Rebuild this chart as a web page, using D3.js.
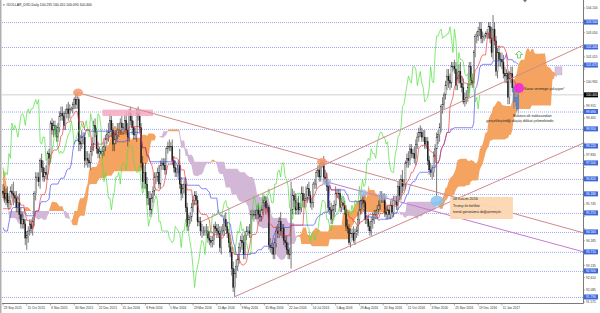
<!DOCTYPE html>
<html lang="tr">
<head>
<meta charset="utf-8">
<title>#DOLLAR_DXD, Daily</title>
<script src="https://cdn.jsdelivr.net/npm/d3@7"></script>
<style>
  body { margin: 0; background: #fff; }
  svg { display: block; font-family: "Liberation Sans", Arial, sans-serif; }
</style>
</head>
<body>
<div id="chart"></div>
<script>
(function (d3) {
  'use strict';

  // daily closes, 23 Sep 2015 .. 26 Jan 2017 (one row = 16 bars = one date label)
  var closes = [
    96.2, 96.0, 96.2, 95.8, 95.9, 96.3, 96.2, 96.1, 96.0, 95.6, 95.8, 95.3, 94.9, 95.1, 94.9, 94.3,
    94.4, 94.6, 94.9, 94.7, 95.0, 96.2, 96.9, 96.9, 96.7, 97.6, 97.3, 96.9, 97.1, 97.0, 97.9, 97.7,
    99.2, 98.9, 99.1, 98.9, 98.6, 99.0, 99.5, 99.6, 99.5, 99.1, 99.6, 99.8, 99.6, 99.8, 99.8, 100.0,
    100.2, 100.0, 100.2, 98.4, 98.3, 98.6, 98.6, 97.6, 97.7, 97.6, 97.5, 98.0, 98.3, 99.1, 98.8, 98.1,
    97.9, 98.0, 97.9, 98.0, 98.2, 98.5, 98.7, 98.8, 99.3, 98.9, 98.3, 98.5, 98.7, 98.9, 98.9, 99.2,
    99.0, 99.0, 99.3, 98.9, 98.6, 99.6, 99.3, 99.0, 98.7, 98.7, 99.6, 99.5, 99.0, 97.5, 96.7, 97.1,
    96.6, 96.0, 96.0, 95.5, 96.0, 96.3, 96.9, 96.9, 97.1, 96.6, 97.4, 97.5, 97.4, 97.2, 98.1, 98.2,
    98.2, 98.2, 97.6, 97.3, 97.1, 97.1, 97.4, 96.6, 96.2, 96.4, 96.6, 95.6, 94.8, 95.1, 95.2, 95.6,
    95.9, 96.1, 95.9, 95.0, 95.0, 94.6, 94.6, 94.6, 94.6, 94.6, 94.3, 94.2, 94.1, 94.2, 94.8, 94.7,
    94.6, 94.5, 93.9, 94.6, 94.6, 95.1, 94.8, 94.5, 94.1, 93.7, 93.0, 92.2, 92.8, 93.1, 93.4, 93.9,
    94.2, 94.1, 93.6, 94.4, 94.6, 94.6, 94.5, 95.3, 95.3, 95.3, 95.3, 95.5, 95.3, 95.2, 95.5, 95.8,
    95.9, 95.6, 95.6, 94.0, 93.9, 93.9, 93.6, 94.1, 94.6, 94.5, 95.0, 94.6, 94.7, 94.2, 94.1, 93.8,
    93.6, 93.6, 95.5, 96.1, 95.9, 95.5, 95.8, 95.5, 95.6, 96.2, 95.9, 95.9, 96.0, 96.4, 96.1, 95.8,
    95.8, 96.6, 96.6, 97.1, 97.2, 96.9, 97.5, 97.5, 96.9, 96.8, 96.5, 95.6, 95.5, 95.1, 95.5, 95.7,
    96.2, 96.2, 96.2, 95.6, 95.8, 95.7, 95.5, 94.8, 94.7, 94.1, 94.5, 94.5, 94.2, 94.5, 94.6, 95.1,
    95.5, 95.9, 95.9, 95.8, 95.1, 95.1, 94.8, 94.6, 95.0, 95.1, 95.3, 95.3, 95.5, 95.7, 96.1, 96.0,
    96.0, 95.4, 95.3, 95.5, 95.3, 95.7, 95.4, 95.9, 95.9, 95.7, 96.5, 96.1, 96.8, 96.5, 96.6, 97.5,
    97.7, 97.6, 98.1, 97.9, 97.9, 97.7, 98.3, 98.6, 98.8, 98.8, 98.6, 98.6, 98.3, 98.4, 97.6, 97.2,
    97.1, 97.1, 97.8, 98.1, 98.6, 98.7, 99.0, 99.9, 100.0, 100.4, 100.8, 101.2, 101.0, 100.9, 101.6, 101.6,
    101.5, 100.8, 101.1, 101.4, 100.9, 100.7, 100.1, 100.2, 100.3, 100.7, 101.6, 101.0, 100.9, 102.2, 102.9, 102.9,
    103.1, 103.2, 102.8, 102.9, 102.9, 103.0, 103.0, 103.3, 102.8, 102.2, 103.2, 102.7, 101.4, 102.2, 101.9, 101.9,
    101.8, 101.3, 101.2, 101.3, 100.3, 101.1, 101.3, 100.7, 100.1, 100.3, 99.8, 100.4
  ];
  var firstOpen = 96.3;

  // wick lengths above / below the candle body
  var wickUp = [
    .3,.3,.2,.3,.2,.2,.3,.5,.2,.3,.3,.4,.3,.3,.2,.2,
    .2,.2,.2,.2,.2,.1,.2,.2,.2,.1,.3,.3,.2,.3,.1,.2,
    .1,.2,.2,.2,.2,.2,.2,.3,.3,.2,.2,.2,.3,.2,.1,.1,
    .1,.3,.3,.1,.3,.3,.2,.2,.3,.3,.3,.2,.3,.2,.3,.2,
    .3,.2,.1,.2,.2,.2,.2,.4,.3,.2,.3,.3,.2,.3,.3,.2,
    .3,.2,.2,.4,.3,.2,.3,.2,.3,.3,.2,.3,.2,.2,.3,.3,
    .4,.3,.3,.3,.2,.2,.2,.2,.2,.3,.2,.2,.2,.3,.1,.2,
    .3,.2,.3,.2,.3,.2,.2,.7,.3,.2,.2,.3,.2,.2,.2,.2,
    .2,.2,.2,.2,.2,.2,.3,.2,.2,.3,.2,.3,.2,.2,.1,.2,
    .2,.3,.3,.2,.3,.2,.3,.2,.2,.2,.2,.3,.2,.3,.2,.2,
    .2,.3,.3,.2,.2,.2,.3,.2,.2,.2,.2,.2,.3,.2,.2,.2,
    .2,.2,.2,.1,.3,.2,.2,.2,.2,.3,.2,.4,.2,.2,.2,.3,
    .3,.3,1.2,.3,.2,.3,.2,.3,.2,.3,.3,.3,.5,.2,.3,.2,
    .2,.1,.2,.1,.2,.3,.1,.1,.3,.3,.3,.2,.3,.3,.2,.2,
    .3,.2,.2,.2,.2,.3,.2,.2,.3,.2,.2,.2,.3,.2,.2,.3,
    .4,.2,.2,.3,.1,.2,.2,.2,.2,.3,.2,.2,.2,.2,.2,.2,
    .2,.2,.2,.2,.2,.2,.3,.2,.2,.2,.2,.3,.2,.4,.2,.1,
    .2,.3,.2,.2,.2,.3,.2,.2,.2,.3,.2,.3,.3,.2,.2,.2,
    .3,.3,.2,.2,.2,.2,.2,.1,.3,.1,.2,.3,.3,.3,.2,.2,
    .3,.3,.3,.3,.4,.3,.4,.3,.3,.2,.2,.2,.3,.1,.1,.2,
    .2,.3,.3,.2,.1,.1,.2,.2,.2,.5,.6,.3,.2,.2,.3,.3,
    .3,.3,.3,.2,.1,.3,.3,.3,.3,.3,.3,.1
  ];
  var wickDn = [
    .2,.2,.3,.2,.3,.2,.2,.4,.2,.2,.2,.2,.2,.2,.2,.3,
    .5,.3,.2,.2,.3,.2,.3,.2,.2,.3,.2,.2,.2,.2,.2,.3,
    .2,.2,.3,.2,.2,.2,.2,.2,.2,.2,.2,.2,.3,.2,.1,.2,
    .2,.2,.2,.4,.3,.2,.3,.3,.2,.3,.2,.3,.2,.3,.2,.2,
    .2,.2,.1,.2,.2,.2,.2,.3,.2,.3,.3,.3,.2,.2,.3,.2,
    .3,.3,.2,.2,.4,.2,.2,.3,.2,.2,.3,.2,.2,.2,.3,.3,
    .2,.3,.3,.3,.2,.2,.2,.3,.2,.2,.2,.2,.2,.2,.2,.2,
    .2,.2,.2,.2,.2,.2,.3,.2,.3,.2,.2,.2,.2,.2,.2,.2,
    .2,.2,.2,.2,.2,.2,.3,.2,.2,.2,.2,.2,.2,.2,.2,.2,
    .3,.2,.2,.3,.2,.2,.2,.2,.2,.2,.3,.2,.4,.2,.2,.2,
    .2,.3,.2,.2,.2,.2,.2,.2,.2,.3,.2,.2,.2,.2,.2,.2,
    .2,.3,.2,.2,.2,.3,.2,.2,.2,.2,.2,.2,.3,.2,.2,.2,
    .2,.2,.6,.2,.3,.2,.2,.2,.2,.2,.3,.3,.3,.2,.2,.2,
    .3,.2,.2,.2,.2,.2,.2,.2,.2,.2,.2,.2,.2,.2,.2,.3,
    .3,.2,.2,.2,.2,.2,.2,.2,.2,.1,.2,.2,.1,.2,.2,.2,
    .2,.2,.2,.2,.2,.2,.2,.2,.2,.3,.2,.2,.2,.2,.2,.2,
    .2,.2,.2,.2,.2,.2,.2,.2,.2,.2,.2,.2,.2,.3,.2,.2,
    .2,.3,.2,.2,.2,.2,.3,.2,.2,.2,.2,.2,.2,.2,.2,.2,
    .2,.3,.2,.3,2.0,.3,.3,.2,.3,.2,.2,.2,.3,.3,.2,.2,
    .2,.2,.2,.2,.2,.2,.1,.2,.2,.2,.2,.2,.2,.2,.2,.3,
    .2,.2,.2,.2,.2,.1,.2,.2,.2,.2,.3,.2,.2,.3,.3,.3,
    .3,.2,.3,.3,.3,.3,.2,.2,.3,.2,.1,.2
  ];

  // bars before the left edge (Jun - Sep 2015), only used to start the Ichimoku lines
  var warmHighs = [
    96.9, 96.4, 95.5, 95.3, 95.4, 95.3, 95.1, 95.0, 95.1, 94.6, 94.4, 95.0, 96.0, 95.9, 95.6, 95.8, 95.6, 95.9,
    96.4, 96.4, 96.3, 96.5, 96.9, 96.9, 96.4, 96.1, 96.8, 97.0, 97.5, 97.9, 98.0, 98.1, 98.0, 97.7, 97.6, 97.4,
    97.2, 96.9, 97.4, 97.7, 97.6, 97.7, 98.1, 98.3, 98.2, 98.1, 97.7, 97.4, 96.9, 96.8, 96.8, 97.0, 97.1, 96.9,
    96.4, 95.5, 94.8, 94.2, 95.3, 95.8, 96.0, 96.1, 96.0, 96.0, 96.4, 96.5, 96.3, 96.3, 96.1, 95.9, 95.6, 95.4,
    95.8, 95.8, 95.4, 95.2, 95.7, 96.3
  ];
  var warmLows = [
    96.0, 95.2, 94.7, 94.3, 94.5, 94.7, 94.3, 94.5, 94.4, 93.5, 93.8, 94.1, 94.9, 95.1, 95.2, 95.3, 94.9, 95.1,
    95.7, 95.9, 95.8, 95.7, 96.1, 96.1, 95.8, 95.7, 96.0, 96.5, 96.8, 97.2, 97.6, 97.6, 97.2, 97.2, 96.9, 96.9,
    96.5, 96.5, 96.6, 97.2, 97.1, 97.2, 97.5, 97.9, 97.6, 97.2, 97.2, 96.8, 96.1, 96.3, 96.4, 96.5, 96.6, 96.3,
    95.4, 94.7, 92.6, 93.3, 93.9, 95.1, 95.5, 95.6, 95.1, 95.3, 95.8, 95.9, 95.9, 95.7, 95.6, 95.3, 95.0, 95.1,
    95.2, 95.2, 94.6, 94.5, 95.0, 95.5
  ];

  var dateLabels = [
    '23 Sep 2015', '15 Oct 2015', '6 Nov 2015', '30 Nov 2015', '22 Dec 2015', '15 Jan 2016',
    '8 Feb 2016', '1 Mar 2016', '23 Mar 2016', '15 Apr 2016', '9 May 2016', '31 May 2016',
    '22 Jun 2016', '14 Jul 2016', '5 Aug 2016', '29 Aug 2016', '20 Sep 2016', '12 Oct 2016',
    '3 Nov 2016', '25 Nov 2016', '19 Dec 2016', '11 Jan 2017'
  ];
  var labelEvery = 16;

  var priceTicks = [
    91.575, 92.085, 92.610, 93.135, 93.660, 94.185, 94.710, 95.220, 95.745, 96.270, 96.795, 97.305,
    97.830, 98.355, 98.880, 99.405, 99.915, 100.440, 100.965, 101.490, 102.015, 102.515, 103.050,
    103.575, 104.100
  ];
  // horizontal levels drawn by the author
  var levels = [103.500, 102.440, 101.670, 99.690, 98.950, 98.220, 97.500, 96.820, 96.180, 95.370,
    94.560, 93.710, 92.900, 91.790];
  var lastPrice = 100.400;
  var header = '#DOLLAR_DXD,Daily  100.235 100.410 100.090 100.400';

  // trend lines: [bar0, price0, bar1, price1]
  var trendLines = [
    [50, 100.5, 391, 94.52],
    [133, 94.98, 391, 102.52],
    [156, 91.8, 391, 98.35],
    [218, 96.69, 391, 93.71]
  ];
  var trendColors = ['#d08a8a', '#d08a8a', '#d08a8a', '#c47ad4'];

  // marked points [bar, price]
  var highMarks = [[50.5, 100.5], [214.8, 97.54]];
  var touchMarks = [[218, 96.69], [242.4, 96.22], [255.9, 96.05]];
  var trumpMark = [292.3, 95.88];
  var nowMark = [347.5, 100.69];
  var arrowMark = [347.5, 102.1];
  var pinkZone = [67, 99.77, 101, 99.5];
  var noteBox = [301, 96.05, 343.4, 95.11];
  var smallBox = [371.7, 101.59, 376.4, 101.25];

  var notes = [
    { b: 351, p: 100.62, t: 'Karar vermeye çalışıyor!' },
    { b: 343.4, p: 99.47, t: 'Bulutun alt noktasından' },
    { b: 325.5, p: 99.24, t: 'gerçekleştirdiği düşüş dikkat çekmektedir.' },
    { b: 303, p: 95.9, t: '08 Kasım 2016' },
    { b: 303, p: 95.63, t: 'Trump ile birlikte' },
    { b: 303, p: 95.36, t: 'trend görünümü değiştirmiştir.' }
  ];

  var width = 600, height = 313;
  var plotRight = 583, plotBottom = 303;

  var N = closes.length, W = warmHighs.length;
  var bars = closes.map(function (c, i) {
    var o = i ? closes[i - 1] : firstOpen;
    return { i: i, o: o, c: c, h: Math.max(o, c) + wickUp[i], l: Math.min(o, c) - wickDn[i] };
  });

  var allH = warmHighs.concat(bars.map(function (d) { return d.h; }));
  var allL = warmLows.concat(bars.map(function (d) { return d.l; }));
  function mid(g, n) {
    var a = Math.max(0, g - n + 1);
    return (d3.max(allH.slice(a, g + 1)) + d3.min(allL.slice(a, g + 1))) / 2;
  }
  var tenkan = bars.map(function (d) { return { i: d.i, v: mid(d.i + W, 9) }; });
  var kijun = bars.map(function (d) { return { i: d.i, v: mid(d.i + W, 26) }; });
  var chikou = bars.slice(26).map(function (d) { return { i: d.i - 26, v: d.c }; });
  var cloud = d3.range(N + 26).map(function (j) {
    var g = j + W - 26;
    return { i: j, a: (mid(g, 9) + mid(g, 26)) / 2, b: mid(g, 52) };
  });

  var x = d3.scaleLinear().domain([0, N - 1]).range([3, 3 + (N - 1) * 1.485]);
  var y = d3.scaleLinear().domain([91.575, 104.1]).range([302, 8]);

  var svg = d3.select('#chart').append('svg')
    .attr('width', width).attr('height', height);

  svg.append('rect').attr('width', width).attr('height', height).attr('fill', '#fff');
  svg.append('defs').append('clipPath').attr('id', 'plot')
    .append('rect').attr('x', 2).attr('y', 0).attr('width', plotRight - 2).attr('height', plotBottom);

  var plot = svg.append('g').attr('clip-path', 'url(#plot)');

  // levels and bid line
  plot.selectAll('line.level').data(levels).join('line')
    .attr('x1', 2).attr('x2', plotRight)
    .attr('y1', function (d) { return y(d) + 0.5; }).attr('y2', function (d) { return y(d) + 0.5; })
    .attr('stroke', '#9aa8f2').attr('stroke-dasharray', '1,1').attr('stroke-width', 1);
  plot.append('line').attr('x1', 2).attr('x2', plotRight)
    .attr('y1', y(lastPrice)).attr('y2', y(lastPrice))
    .attr('stroke', '#c4c4c4').attr('stroke-width', 0.8);

  // kumo: one area per colour, each collapsing where the other colour is on top
  var bullArea = d3.area()
    .x(function (d) { return x(d.i); })
    .y0(function (d) { return y(d.b); })
    .y1(function (d) { return y(Math.max(d.a, d.b)); });
  var bearArea = d3.area()
    .x(function (d) { return x(d.i); })
    .y0(function (d) { return y(d.a); })
    .y1(function (d) { return y(Math.max(d.a, d.b)); });
  plot.append('path').datum(cloud).attr('d', bearArea).attr('fill', '#d2b8d6');
  plot.append('path').datum(cloud).attr('d', bullArea).attr('fill', '#f4a460');

  // candles
  var last = N - 4;
  plot.selectAll('line.wick').data(bars).join('line')
    .attr('x1', function (d) { return x(d.i); }).attr('x2', function (d) { return x(d.i); })
    .attr('y1', function (d) { return y(d.h); }).attr('y2', function (d) { return y(d.l); })
    .attr('stroke', function (d) { return d.i >= last ? '#4a78c0' : '#222'; })
    .attr('stroke-width', 0.6);
  plot.selectAll('rect.body').data(bars).join('rect')
    .attr('x', function (d) { return x(d.i) - 0.55; })
    .attr('width', 1.1)
    .attr('y', function (d) { return y(Math.max(d.o, d.c)); })
    .attr('height', function (d) { return Math.max(0.5, Math.abs(y(d.o) - y(d.c))); })
    .attr('fill', function (d) {
      if (d.i >= last) return '#5b8ad0';
      return d.c >= d.o ? '#fff' : '#111';
    })
    .attr('stroke', function (d) { return d.i >= last ? '#4a78c0' : '#222'; })
    .attr('stroke-width', 0.35);

  // ichimoku lines
  var line = d3.line().x(function (d) { return x(d.i); }).y(function (d) { return y(d.v); });
  plot.append('path').datum(chikou).attr('d', line)
    .attr('fill', 'none').attr('stroke', '#55e040').attr('stroke-width', 0.8).attr('opacity', 0.9);
  plot.append('path').datum(kijun).attr('d', line)
    .attr('fill', 'none').attr('stroke', '#3f3ff0').attr('stroke-width', 0.8).attr('opacity', 0.8);
  plot.append('path').datum(tenkan).attr('d', line)
    .attr('fill', 'none').attr('stroke', '#f02a2a').attr('stroke-width', 0.8).attr('opacity', 0.8);

  // objects
  plot.append('rect')
    .attr('x', x(pinkZone[0])).attr('width', x(pinkZone[2]) - x(pinkZone[0]))
    .attr('y', y(pinkZone[1])).attr('height', y(pinkZone[3]) - y(pinkZone[1]))
    .attr('fill', '#f7a9c2').attr('opacity', 0.85);

  plot.selectAll('line.trend').data(trendLines).join('line')
    .attr('x1', function (d) { return x(d[0]); }).attr('y1', function (d) { return y(d[1]); })
    .attr('x2', function (d) { return x(d[2]); }).attr('y2', function (d) { return y(d[3]); })
    .attr('stroke', function (d, i) { return trendColors[i]; })
    .attr('stroke-width', 1);

  plot.selectAll('ellipse.high').data(highMarks).join('ellipse')
    .attr('cx', function (d) { return x(d[0]); }).attr('cy', function (d) { return y(d[1]); })
    .attr('rx', 5).attr('ry', 4).attr('fill', '#f59a6c').attr('opacity', 0.85);
  plot.selectAll('ellipse.touch').data(touchMarks).join('ellipse')
    .attr('cx', function (d) { return x(d[0]); }).attr('cy', function (d) { return y(d[1]); })
    .attr('rx', 4.5).attr('ry', 3.5).attr('fill', '#9db4dc').attr('opacity', 0.7);
  plot.append('ellipse')
    .attr('cx', x(trumpMark[0])).attr('cy', y(trumpMark[1]))
    .attr('rx', 6.5).attr('ry', 5.5).attr('fill', '#86c4f0').attr('opacity', 0.85);

  plot.append('rect')
    .attr('x', x(noteBox[0])).attr('width', x(noteBox[2]) - x(noteBox[0]))
    .attr('y', y(noteBox[1])).attr('height', y(noteBox[3]) - y(noteBox[1]))
    .attr('fill', '#fdd6b0').attr('opacity', 0.95);

  plot.append('ellipse')
    .attr('cx', x(nowMark[0])).attr('cy', y(nowMark[1]))
    .attr('rx', 5).attr('ry', 5).attr('fill', '#f020e8').attr('opacity', 0.85);

  var ax = x(arrowMark[0]), ay = y(arrowMark[1]);
  plot.append('path')
    .attr('d', 'M' + ax + ',' + (ay - 4) + 'l3.5,3.5h-2v3.5h-3v-3.5h-2z')
    .attr('fill', '#fff').attr('stroke', '#3cbf3c').attr('stroke-width', 0.7);

  plot.append('rect')
    .attr('x', x(smallBox[0])).attr('width', x(smallBox[2]) - x(smallBox[0]))
    .attr('y', y(smallBox[1])).attr('height', y(smallBox[3]) - y(smallBox[1]))
    .attr('fill', '#d8c2dc').attr('stroke', '#b8a0c0').attr('stroke-width', 0.4);

  plot.selectAll('text.note').data(notes).join('text')
    .attr('x', function (d) { return x(d.b); }).attr('y', function (d) { return y(d.p); })
    .attr('font-size', 3.7).attr('fill', '#222').text(function (d) { return d.t; });

  // frame
  svg.append('rect').attr('x', 0).attr('y', 0).attr('width', 1.5).attr('height', height).attr('fill', '#b0b0b0');
  svg.append('line').attr('x1', plotRight + 0.5).attr('x2', plotRight + 0.5).attr('y1', 0).attr('y2', plotBottom + 0.5)
    .attr('stroke', '#7a7a7a').attr('stroke-width', 1);
  svg.append('line').attr('x1', 2).attr('x2', plotRight + 0.5).attr('y1', plotBottom + 0.5).attr('y2', plotBottom + 0.5)
    .attr('stroke', '#7a7a7a').attr('stroke-width', 1);
  svg.append('path').attr('d', 'M523,0h4l-2,2.5z').attr('fill', '#777');

  // price axis: a scale label is hidden where a level box sits on it
  var boxed = levels.concat([lastPrice]);
  var freeTicks = priceTicks.filter(function (t) {
    return boxed.every(function (b) { return Math.abs(y(b) - y(t)) > 4.6; });
  });
  var pAxis = svg.append('g').attr('font-size', 3.2).attr('fill', '#333');
  pAxis.selectAll('line').data(priceTicks).join('line')
    .attr('x1', plotRight).attr('x2', plotRight + 2)
    .attr('y1', function (d) { return y(d); }).attr('y2', function (d) { return y(d); })
    .attr('stroke', '#777').attr('stroke-width', 0.6);
  pAxis.selectAll('text').data(freeTicks).join('text')
    .attr('x', plotRight + 3).attr('y', function (d) { return y(d) + 1.2; })
    .text(function (d) { return d3.format('.3f')(d); });

  var boxes = svg.append('g').attr('font-size', 3.2);
  var lv = boxes.selectAll('g').data(levels).join('g')
    .attr('transform', function (d) { return 'translate(' + (plotRight + 1) + ',' + y(d) + ')'; });
  lv.append('rect').attr('x', 0).attr('y', -2.5).attr('width', 14).attr('height', 5).attr('fill', '#3c67dc');
  lv.append('text').attr('x', 2).attr('y', 1.2).attr('fill', '#fff')
    .text(function (d) { return d3.format('.3f')(d); });
  var lp = boxes.append('g').attr('transform', 'translate(' + (plotRight + 1) + ',' + y(lastPrice) + ')');
  lp.append('rect').attr('x', 0).attr('y', -2.5).attr('width', 14).attr('height', 5).attr('fill', '#000');
  lp.append('text').attr('x', 2).attr('y', 1.2).attr('fill', '#fff').text(d3.format('.3f')(lastPrice));

  // time axis
  var tAxis = svg.append('g').attr('font-size', 3.2).attr('fill', '#333');
  var dl = tAxis.selectAll('g').data(dateLabels).join('g')
    .attr('transform', function (d, k) { return 'translate(' + x(k * labelEvery) + ',' + plotBottom + ')'; });
  dl.append('line').attr('y1', 0).attr('y2', 2.5).attr('stroke', '#777').attr('stroke-width', 0.6);
  dl.append('text').attr('x', 0.8).attr('y', 5.8).text(function (d) { return d; });

  // header
  svg.append('text').attr('x', 3).attr('y', 6).attr('font-size', 3.4).attr('fill', '#222')
    .text('\u25BE ' + header);

})(window.d3);
</script>
</body>
</html>
